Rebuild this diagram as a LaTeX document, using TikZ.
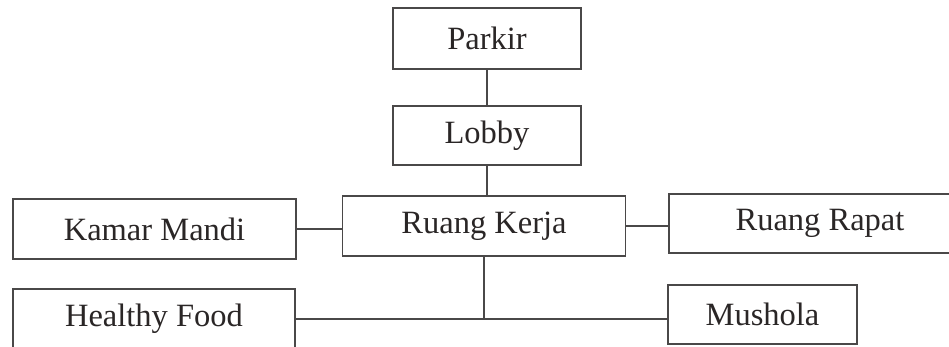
\documentclass[tikz,border=0pt]{standalone}
\usepackage{fontspec}
\setmainfont{Liberation Serif}
\definecolor{edge}{HTML}{4A4848}
\definecolor{ink}{HTML}{2A2626}
\tikzset{
  room/.style={draw=edge, line width=1.3pt, fill=white, text=ink,
    font=\fontsize{32.5}{38}\selectfont, inner sep=0pt, anchor=center},
  link/.style={draw=edge, line width=1.3pt}
}
\begin{document}
\begin{tikzpicture}[x=1pt,y=-1pt]
\useasboundingbox (0,0) rectangle (949,346);
\clip (0,0) rectangle (949,346);
\node[room, minimum width=188pt, minimum height=61pt] (parkir) at (487,38.5) {Parkir};
\node[room, minimum width=188pt, minimum height=59pt] (lobby) at (487,135.5) {Lobby};
\node[room, minimum width=283pt, minimum height=60pt] (kerja) at (484,226) {Ruang Kerja};
\node[room, minimum width=283pt, minimum height=60pt] (mandi) at (154.5,229) {Kamar Mandi};
\node[room, minimum width=302pt, minimum height=59pt] (rapat) at (820,223.5) {Ruang Rapat};
\node[room, minimum width=282pt, minimum height=60pt] (food) at (154,319) {Healthy Food};
\node[room, minimum width=189pt, minimum height=59pt] (mushola) at (762.5,314.5) {Mushola};
\draw[link] (parkir.south) -- (lobby.north);
\draw[link] (lobby.south) -- (lobby.south |- kerja.north);
\draw[link] (mandi.east) -- (mandi.east -| kerja.west);
\draw[link] (kerja.east) -- (kerja.east -| rapat.west);
\draw[link] (food.east) -- (food.east -| mushola.west);
\draw[link] (kerja.south) -- (kerja.south |- food.east);
\end{tikzpicture}
\end{document}
